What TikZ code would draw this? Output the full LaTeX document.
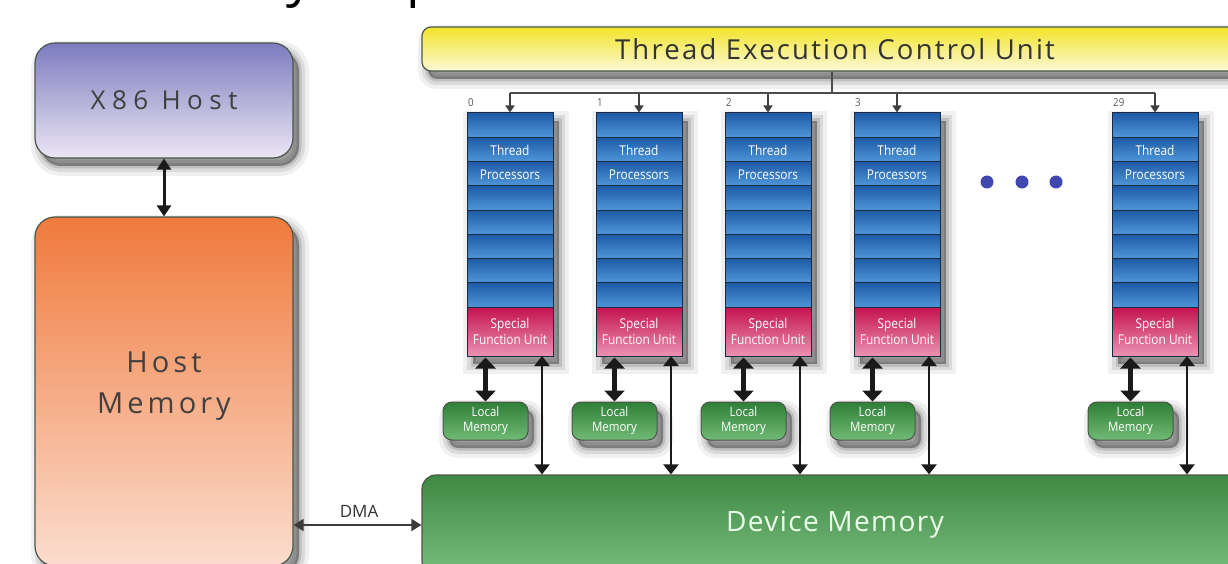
\documentclass[tikz,border=0pt]{standalone}
\usepackage{fontspec}
\setmainfont{Open Sans}
\newfontfamily\ctrlf{Open Sans}[LetterSpace=8]
\newfontfamily\devf{Open Sans}[LetterSpace=5]
\newfontfamily\hostf{Open Sans}[LetterSpace=25]
\newfontfamily\memf{Open Sans}[LetterSpace=14]
\newfontfamily\condf{Open Sans}[FakeStretch=0.88]
\usetikzlibrary{arrows.meta,calc}
\definecolor{purpT}{HTML}{7C7CBF}
\definecolor{purpB}{HTML}{ECE6F4}
\definecolor{orT}{HTML}{F07A3C}
\definecolor{orB}{HTML}{FBDDCE}
\definecolor{yeT}{HTML}{F2E428}
\definecolor{yeB}{HTML}{FCF9D8}
\definecolor{grT}{HTML}{3E8944}
\definecolor{grB}{HTML}{7ABD7E}
\definecolor{blT}{HTML}{1E5AA6}
\definecolor{blB}{HTML}{4E96D8}
\definecolor{piT}{HTML}{C3124F}
\definecolor{piB}{HTML}{EC92B2}
\definecolor{lmT}{HTML}{2F7F38}
\definecolor{lmB}{HTML}{70BA74}
\definecolor{edge}{HTML}{4A564A}
\definecolor{rowline}{HTML}{1A2A40}
\definecolor{dotc}{HTML}{4048B0}
\definecolor{arr}{HTML}{1A1A1A}
\tikzset{
  shad/.style={
    preaction={draw=black,draw opacity=0.06,line width=20pt,fill=black,fill opacity=0.06,transform canvas={shift={(6pt,-8pt)}}},
    preaction={draw=black,draw opacity=0.09,line width=12pt,transform canvas={shift={(6pt,-8pt)}}},
    preaction={draw=black,draw opacity=0.12,line width=5pt,fill=black,fill opacity=0.3,transform canvas={shift={(6pt,-8pt)}}}},
  bigbox/.style={draw=edge,line width=1.2pt,rounded corners=20pt,shad},
  lmbox/.style={draw=edge,line width=1pt,rounded corners=9pt,top color=lmT,bottom color=lmB,
    minimum width=85pt,minimum height=38pt,inner sep=0pt,align=center,text=white,
    font=\condf\fontsize{13}{15}\selectfont,shad},
  rowbox/.style={draw=rowline,line width=1pt,top color=blT,bottom color=blB},
  small/.style={text=white,font=\condf\fontsize{13.5}{15}\selectfont,inner sep=0pt},
  thickarr/.style={arr,line width=5pt,{Triangle[width=20pt,length=11pt]}-{Triangle[width=20pt,length=11pt]},shorten <=1pt},
  thinarr/.style={arr,line width=2.2pt,{Triangle[width=15pt,length=10pt]}-{Triangle[width=15pt,length=10pt]}},
  medarr/.style={arr,line width=3pt,{Triangle[width=14pt,length=11pt]}-{Triangle[width=14pt,length=11pt]}},
  busline/.style={draw=black!70,line width=1.6pt},
  busarr/.style={black!75,line width=1.6pt,-{Triangle[width=9pt,length=7pt]}},
  digit/.style={text=black!65,font=\condf\fontsize{11}{12}\selectfont,inner sep=0pt,anchor=west},
}
\begin{document}
\begin{tikzpicture}[x=1pt,y=-1pt]
\useasboundingbox (0,0) rectangle (1228,564);
\clip (0,0) rectangle (1228,564);
\fill[white] (0,0) rectangle (1228,564);

% cut-off title
\node[anchor=base west,inner sep=0pt,font=\fontsize{54}{60}\selectfont] (title) at (102,-4) {Memory Map};

% host side
\node[bigbox,top color=purpT,bottom color=purpB,minimum width=258pt,minimum height=115pt,
  text=black!75,font=\hostf\fontsize{26}{30}\selectfont] (x86) at (164,100.5) {X86 Host};
\node[bigbox,top color=orT,bottom color=orB,minimum width=258pt,minimum height=349pt] (hm) at (164,391.5) {};
\node[align=center,text=black!75,font=\memf\fontsize{29}{41}\selectfont] (hmtext) at (164,386) {Host\\Memory};
\draw[medarr] (x86.south) -- (hm.north);

% control unit and device memory
\node[draw=edge,line width=1.2pt,rounded corners=9pt,shad,top color=yeT,bottom color=yeB,
  minimum width=826pt,minimum height=44pt,text=black!80,font=\ctrlf\fontsize{27.5}{30}\selectfont] (ctrl) at (835,49) {Thread Execution Control Unit};
\node[draw=edge,line width=1.2pt,rounded corners=14pt,top color=grT,bottom color=grB,
  minimum width=826pt,minimum height=100pt,text=green!8!white,font=\devf\fontsize{28}{30}\selectfont] (dev) at (835,525) {Device Memory};

% DMA
\draw[arr!85,line width=2pt,{Triangle[width=12pt,length=10pt]}-{Triangle[width=12pt,length=10pt]}] (hm.east |- dev.west) -- (dev.west);
\node[text=black!80,font=\fontsize{17}{20}\selectfont,inner sep=0pt] (dma) at (359,511) {DMA};

% bus
\coordinate (bus) at (832,93);
\draw[busline] (ctrl.south -| bus) -- (bus);

% columns
\foreach \x/\l [count=\i from 0] in {467/0,596/1,725/2,854/3,1112/29}{
  \node[draw=rowline,line width=1pt,fill=blT,minimum width=86pt,minimum height=243pt,inner sep=0pt,shad] (col\i) at (\x+43,234.5) {};
  \foreach \r in {0,...,7}{
    \path[rowbox] (\x,113+\r*24.25) rectangle ++(86,24.25);
  }
  \node[small] (th\i) at (\x+43,150.5) {Thread};
  \node[small] (pr\i) at (\x+43,175) {Processors};
  \node[draw=rowline,line width=1pt,top color=piT,bottom color=piB,minimum width=86pt,minimum height=49pt,
    inner sep=0pt,align=center,text=white,font=\condf\fontsize{13.5}{16}\selectfont] (sfu\i) at (\x+43,331.5) {Special\\Function Unit};
  \node[lmbox] (lm\i) at (\x+18.5,421) {Local\\Memory};
  \node[digit] (d\i) at (\x+1,103) {\l};
  \draw[busarr] (col\i.north |- bus) -- (col\i.north);
  \draw[thickarr] (sfu\i.south -| lm\i.north) -- (lm\i.north);
  \coordinate (ta\i) at (\x+75,356);
  \draw[thinarr] (ta\i) -- (ta\i |- dev.north);
}
\draw[busline] (col0.north |- bus) -- (col4.north |- bus);

% dots
\foreach \dx [count=\j] in {987,1022,1056}{
  \node[circle,fill=dotc,minimum size=13pt,inner sep=0pt] (dot\j) at (\dx,182) {};
}
\end{tikzpicture}
\end{document}
